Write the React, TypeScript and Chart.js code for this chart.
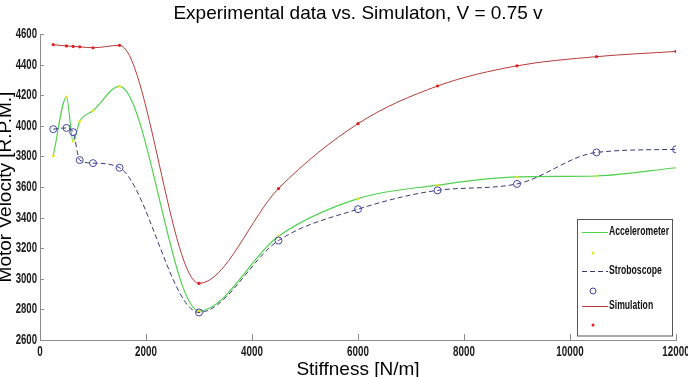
import React, { useEffect, useRef } from "react";
import { Chart, registerables } from "chart.js";

Chart.register(...registerables);

const titleText = "Experimental data vs. Simulaton, V = 0.75 v";
const xTitle = "Stiffness [N/m]";
const yTitle = "Motor Velocity [R.P.M.]";

const stiffness = [250, 500, 625, 750, 1000, 1500, 3000, 4500, 6000, 7500, 9000, 10500, 12000];
const accelerometer = [3805, 4188, 3900, 4030, 4098, 4258, 2790, 3278, 3524, 3612, 3666, 3672, 3726];
const stroboscope = [3978, 3986, 3958, 3776, 3756, 3726, 2780, 3250, 3455, 3578, 3620, 3826, 3846];
const simulation = [4530, 4522, 4519, 4516, 4510, 4526, 2970, 3590, 4014, 4260, 4392, 4452, 4486];

const seriesNames = ["Accelerometer", "Stroboscope", "Simulation"];

const xMin = 0;
const xMax = 12000;
const xStep = 2000;
const yMin = 2600;
const yMax = 4600;
const yStep = 200;

const SANS = '"Liberation Sans", Arial, sans-serif';

const GREEN = "#4fd24f";
const YELLOW = "#e6e62a";
const NAVY = "#3a3a78";
const CIRCLE = "#4646a8";
const RED = "#b83a3a";
const REDPT = "#e02020";
const AXIS = "#8c8c8c";

const toPoints = (ys: number[]) => stiffness.map((x, i) => ({ x, y: ys[i] }));

function narrowText(ctx: CanvasRenderingContext2D, text: string, x: number, y: number, align: CanvasTextAlign, squeeze: number) {
  ctx.save();
  ctx.translate(x, y);
  ctx.scale(squeeze, 1);
  ctx.textAlign = align;
  ctx.fillText(text, 0, 0);
  ctx.restore();
}

const decorPlugin = {
  id: "decor",
  afterDraw(chart: any) {
    const ctx = chart.ctx as CanvasRenderingContext2D;
    const xs = chart.scales.x;
    const ys = chart.scales.y;
    const area = chart.chartArea;
    ctx.save();
    // inward ticks
    ctx.strokeStyle = AXIS;
    ctx.lineWidth = 1;
    ctx.beginPath();
    for (let v = xMin; v <= xMax; v += xStep) {
      const px = Math.round(xs.getPixelForValue(v)) + 0.5;
      ctx.moveTo(px, area.bottom);
      ctx.lineTo(px, area.bottom - 6);
    }
    for (let v = yMin; v <= yMax; v += yStep) {
      const py = Math.round(ys.getPixelForValue(v)) + 0.5;
      ctx.moveTo(area.left, py);
      ctx.lineTo(area.left + 4, py);
    }
    ctx.stroke();

    // tick labels
    ctx.fillStyle = "#1a1a1a";
    ctx.font = `bold 14px ${SANS}`;
    ctx.textBaseline = "middle";
    for (let v = xMin; v <= xMax; v += xStep) {
      narrowText(ctx, String(v), xs.getPixelForValue(v), 352, "center", 0.7);
    }
    ctx.font = `bold 14.5px ${SANS}`;
    for (let v = yMin; v <= yMax; v += yStep) {
      narrowText(ctx, String(v), area.left - 3, ys.getPixelForValue(v), "right", 0.66);
    }

    // titles
    ctx.fillStyle = "#000";
    ctx.font = `19px ${SANS}`;
    ctx.textAlign = "center";
    ctx.textBaseline = "alphabetic";
    ctx.fillText(titleText, (area.left + area.right) / 2, 19);
    ctx.fillText(xTitle, (area.left + area.right) / 2, 375);
    ctx.save();
    ctx.translate(11, (area.top + area.bottom) / 2);
    ctx.rotate(-Math.PI / 2);
    ctx.fillText(yTitle, 0, 0);
    ctx.restore();

    // legend
    const bx = 577.5, by = 219.5, bw = 95, bh = 116.5;
    ctx.fillStyle = "#fff";
    ctx.fillRect(bx, by, bw, bh);
    ctx.strokeStyle = "#555";
    ctx.strokeRect(bx, by, bw, bh);
    const lx0 = 582, lx1 = 608, mx = 593;
    const lineRows = [232, 271, 306];
    const markRows = [253, 291, 325];
    const lineColors = [GREEN, NAVY, RED];
    const dashes = [[], [5, 3], []];
    ctx.font = `bold 12px ${SANS}`;
    ctx.textBaseline = "middle";
    for (let i = 0; i < 3; i++) {
      ctx.strokeStyle = lineColors[i];
      ctx.setLineDash(dashes[i]);
      ctx.beginPath();
      ctx.moveTo(lx0, lineRows[i] + 0.5);
      ctx.lineTo(lx1, lineRows[i] + 0.5);
      ctx.stroke();
      ctx.setLineDash([]);
      ctx.fillStyle = "#111";
      narrowText(ctx, seriesNames[i], lx1 + 1, lineRows[i], "left", 0.72);
    }
    ctx.fillStyle = YELLOW;
    ctx.beginPath();
    ctx.arc(mx, markRows[0], 1.5, 0, Math.PI * 2);
    ctx.fill();
    ctx.strokeStyle = CIRCLE;
    ctx.beginPath();
    ctx.arc(mx, markRows[1], 3, 0, Math.PI * 2);
    ctx.stroke();
    ctx.fillStyle = REDPT;
    ctx.beginPath();
    ctx.arc(mx, markRows[2], 1.5, 0, Math.PI * 2);
    ctx.fill();
    ctx.restore();
  },
};

export default function App() {
  const ref = useRef<HTMLCanvasElement | null>(null);
  useEffect(() => {
    document.body.style.margin = "0";
    const canvas = ref.current;
    if (!canvas) return;
    const chart = new Chart(canvas, {
      type: "line",
      data: {
        datasets: [
          {
            label: seriesNames[0],
            data: toPoints(accelerometer),
            borderColor: GREEN,
            borderWidth: 1.2,
            cubicInterpolationMode: "monotone",
            pointRadius: 1.5,
            pointBackgroundColor: YELLOW,
            pointBorderColor: YELLOW,
            pointBorderWidth: 0,
            fill: false,
            order: 3,
          },
          {
            label: seriesNames[1],
            data: toPoints(stroboscope),
            borderColor: NAVY,
            borderWidth: 1,
            borderDash: [5, 3],
            cubicInterpolationMode: "monotone",
            pointRadius: 3.5,
            pointBackgroundColor: "rgba(0,0,0,0)",
            pointBorderColor: CIRCLE,
            pointBorderWidth: 1,
            fill: false,
            order: 2,
          },
          {
            label: seriesNames[2],
            data: toPoints(simulation),
            borderColor: RED,
            borderWidth: 1,
            cubicInterpolationMode: "monotone",
            pointRadius: 1.6,
            pointBackgroundColor: REDPT,
            pointBorderColor: REDPT,
            pointBorderWidth: 0,
            fill: false,
            order: 1,
          },
        ],
      },
      options: {
        animation: false,
        responsive: false,
        devicePixelRatio: 1,
        layout: { padding: { left: 0, right: 12, top: 34, bottom: 0 } },
        plugins: {
          legend: { display: false },
          title: { display: false },
          tooltip: { enabled: false },
        },
        scales: {
          x: {
            type: "linear",
            min: xMin,
            max: xMax,
            ticks: { stepSize: xStep, display: false },
            grid: { display: false, drawTicks: false },
            border: { display: true, color: AXIS, width: 1 },
            afterFit: (s: any) => {
              s.height = 37;
            },
          },
          y: {
            type: "linear",
            min: yMin,
            max: yMax,
            ticks: { stepSize: yStep, display: false },
            grid: { display: false, drawTicks: false },
            border: { display: true, color: AXIS, width: 1 },
            afterFit: (s: any) => {
              s.width = 40;
            },
          },
        },
      },
      plugins: [decorPlugin],
    } as any);
    return () => chart.destroy();
  }, []);
  return <canvas ref={ref} width={688} height={377} style={{ display: "block", width: 688, height: 377 }} />;
}
